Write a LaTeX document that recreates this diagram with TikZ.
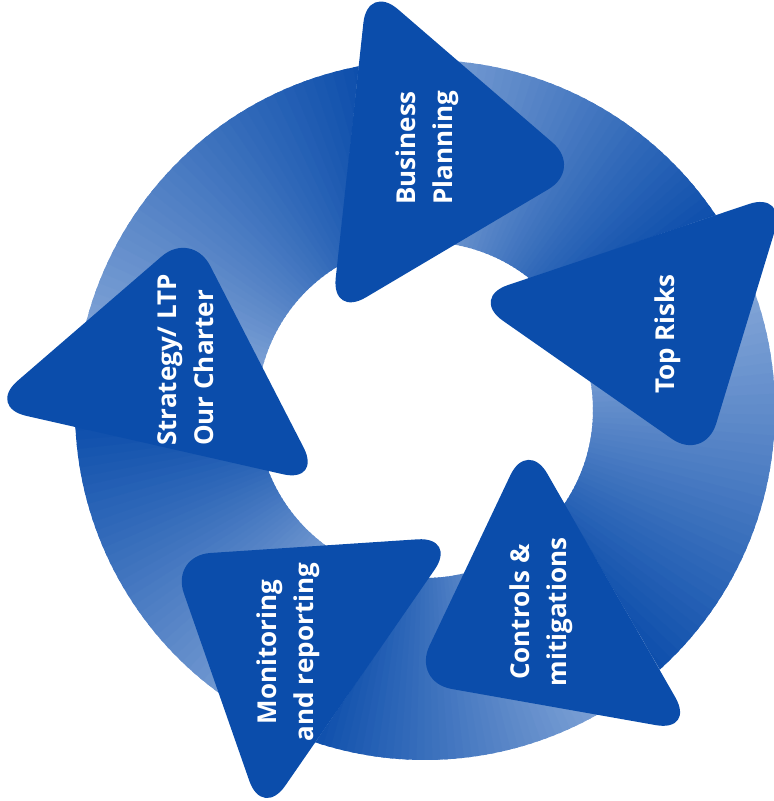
\documentclass[tikz,border=0pt]{standalone}
\usepackage{fontspec}
\setmainfont{Open Sans}

\definecolor{ringdark}{RGB}{11,77,171}
\definecolor{ringlight}{RGB}{185,205,235}
\newcommand{\ringout}{350pt}
\newcommand{\ringin}{168pt}

\tikzset{
    steplabel/.style={text=white, font=\bfseries\fontsize{26}{37}\selectfont, align=center, rotate=90},
    headfill/.style={fill=ringdark, rounded corners=40pt},
}

% one shaded piece of the ring: tail out, tail in, head out, head in (angles)
\newcommand{\ringband}[4]{%
    \pgfmathsetmacro\headout{#3-1.5}
    \pgfmathsetmacro\headin{#4-1.5}
    \pgfmathsetmacro\bandfrom{max(#1,#2)+1}
    \pgfmathsetmacro\bandto{min(\headout,\headin)-1}
    \begin{scope}
        \clip (#1:\ringout) arc[start angle=#1, end angle=\headout, radius=\ringout]
            -- (\headin:\ringin) arc[start angle=\headin, end angle=#2, radius=\ringin] -- cycle;
        \foreach \k in {0,...,59} {
            \pgfmathsetmacro\wedgea{\bandfrom+(\bandto-\bandfrom)*\k/60}
            \pgfmathsetmacro\wedgeb{\bandfrom+(\bandto-\bandfrom)*(\k+1.5)/60}
            \pgfmathsetmacro\bandmix{100*\k/59}
            \fill[ringdark!\bandmix!ringlight] (\wedgea:150pt) -- (\wedgea:380pt) -- (\wedgeb:380pt) -- (\wedgeb:150pt) -- cycle;
        }
    \end{scope}}

\begin{document}
\begin{tikzpicture}[x=1pt,y=1pt]
    \useasboundingbox (0,0) rectangle (774,801);

    \begin{scope}[shift={(425,391)}]
        %bands
        \ringband{182.8}{200.8}{100.9}{121.1}
        \ringband{100.9}{121.1}{33.8}{51.3}
        \ringband{33.8}{51.3}{-47.9}{-34.2}
        \ringband{-47.9}{-34.2}{-108.3}{-89.2}
        \ringband{-108.3}{-89.2}{-177.2}{-159.2}

        %heads
        \fill[headfill] (-57.3,426.8) -- (157.9,241.2) -- (-93.6,92.2) -- cycle;
        \fill[headfill] (361.8,218.7) -- (279.6,-51.7) -- (45.1,112.2) -- cycle;
        \fill[headfill] (270.2,-322.1) -- (-12.7,-272) -- (102.5,-29.1) -- cycle;
        \fill[headfill] (-162.5,-408.6) -- (-254.3,-145.6) -- (32.4,-126.7) -- cycle;
        \fill[headfill] (-437.7,3) -- (-233.1,179.7) -- (-103.1,-73.1) -- cycle;

        \node[steplabel] (bp) at (2,262)     {Business\\Planning};
        \node[steplabel] (tr) at (243,76)    {Top Risks};
        \node[steplabel] (cm) at (116,-202)  {Controls \&\\mitigations};
        \node[steplabel] (mr) at (-137,-242) {Monitoring\\and reporting};
        \node[steplabel, align=left] (sl) at (-239,50) {Strategy/ LTP\\Our Charter};
    \end{scope}

\end{tikzpicture}
\end{document}
